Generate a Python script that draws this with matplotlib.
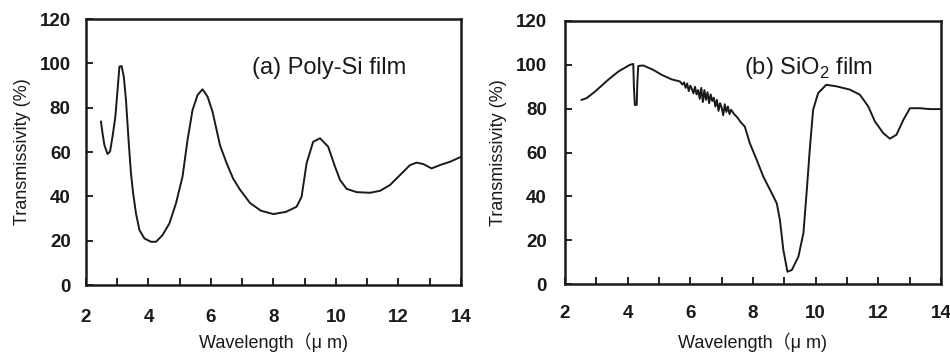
import matplotlib.pyplot as plt
import numpy as np

plt.rcParams['font.family'] = ['Liberation Sans', 'Noto Sans CJK JP', 'DejaVu Sans']
plt.rcParams['mathtext.fontset'] = 'custom'
plt.rcParams['mathtext.rm'] = 'Liberation Sans'

# (a) Poly-Si film
wl_a = [2.48, 2.53, 2.59, 2.69, 2.77, 2.85, 2.94, 3.01, 3.07, 3.14, 3.21, 3.28,
        3.37, 3.44, 3.51, 3.60, 3.71, 3.87, 4.08, 4.24, 4.45, 4.67, 4.88, 5.09,
        5.25, 5.41, 5.57, 5.73, 5.89, 6.05, 6.29, 6.50, 6.71, 6.93, 7.25, 7.60,
        8.00, 8.40, 8.74, 8.90, 9.06, 9.27, 9.49, 9.75, 9.97, 10.13, 10.34, 10.66,
        11.09, 11.41, 11.73, 12.05, 12.37, 12.58, 12.79, 13.06, 13.33, 13.65, 13.97]
tr_a = [73.7, 68.4, 63.1, 59.1, 60.2, 67.0, 75.9, 87.9, 98.5, 98.8, 94.0, 83.4,
        63.9, 50.4, 41.3, 32.3, 24.8, 21.0, 19.5, 19.5, 22.5, 27.8, 36.8, 48.9,
        65.4, 78.9, 85.7, 88.3, 85.0, 78.2, 63.0, 55.0, 48.0, 43.0, 37.0, 33.5,
        32.0, 33.0, 35.3, 39.8, 54.9, 64.6, 66.2, 62.4, 53.4, 47.4, 43.4, 41.9,
        41.6, 42.5, 45.1, 49.6, 54.1, 55.2, 54.6, 52.6, 54.1, 55.6, 57.6]

# (b) SiO2 film
wl_b = [2.53, 2.69, 2.96, 3.38, 3.70, 4.07, 4.18, 4.20, 4.23, 4.29, 4.31, 4.34,
        4.50, 4.82, 5.09, 5.40, 5.67, 5.75, 5.80, 5.85, 5.90, 5.95, 6.00, 6.05,
        6.10, 6.15, 6.20, 6.25, 6.30, 6.35, 6.40, 6.45, 6.50, 6.55, 6.60, 6.65,
        6.70, 6.75, 6.80, 6.85, 6.90, 6.95, 7.00, 7.05, 7.10, 7.15, 7.20, 7.25,
        7.30, 7.40, 7.50, 7.60, 7.74, 7.90, 8.12, 8.33, 8.60, 8.76, 8.86, 8.97,
        9.10, 9.24, 9.45, 9.61, 9.71, 9.82, 9.92, 10.08, 10.34, 10.66, 11.09, 11.41,
        11.68, 11.89, 12.16, 12.37, 12.58, 12.80, 13.01, 13.33, 13.65, 13.97]
tr_b = [84.0, 84.8, 87.8, 93.2, 96.9, 100.0, 100.4, 90.0, 81.7, 81.7, 92.0, 99.5,
        99.7, 97.7, 95.4, 93.4, 92.4, 91.0, 92.0, 89.5, 91.5, 88.0, 90.5, 89.0,
        87.0, 90.0, 86.5, 88.5, 84.5, 89.5, 83.0, 88.5, 84.0, 87.5, 82.5, 86.5,
        83.5, 85.0, 81.0, 84.0, 79.0, 82.5, 80.5, 77.0, 82.0, 78.5, 81.0, 77.5,
        79.5, 77.5, 76.0, 74.0, 71.8, 64.2, 56.6, 49.0, 41.4, 36.8, 29.2, 15.5,
        5.6, 6.4, 12.5, 23.2, 41.4, 62.7, 79.5, 87.1, 90.9, 90.2, 88.7, 86.4,
        81.0, 74.2, 68.8, 66.3, 68.1, 74.9, 80.2, 80.2, 79.8, 79.8]

x_ticks = [2, 4, 6, 8, 10, 12, 14]
y_ticks = [0, 20, 40, 60, 80, 100, 120]

fig = plt.figure(figsize=(9.5, 3.54), dpi=100)
ax_a = fig.add_axes([0.0905, 0.1949, 0.3947, 0.7514])
ax_b = fig.add_axes([0.5947, 0.1977, 0.3958, 0.7430])

ink = '#1a1a1a'
panels = [(ax_a, wl_a, tr_a, '(a) Poly-Si film', 7.31, 97.9, 11, 17, 5),
          (ax_b, wl_b, tr_b, r'(b) SiO$_\mathrm{2}$ film', 7.71, 98.6, 13, 15, 8)]

for ax, x, y, title, tx, ty, ypad, xpad, lpad in panels:
    ax.plot(x, y, color=ink, lw=1.4)
    ax.set_xlim(2, 14)
    ax.set_ylim(0, 120)
    ax.set_xticks(x_ticks)
    ax.set_xticks(np.arange(3, 14, 2), minor=True)
    ax.set_yticks(y_ticks)
    ax.tick_params(axis='x', which='both', direction='in', length=5, width=1.2,
                   top=False, pad=xpad, labelsize=13.5, labelcolor=ink)
    ax.tick_params(axis='y', which='both', direction='in', length=5, width=1.2,
                   right=False, pad=ypad, labelsize=13.5, labelcolor=ink)
    for lab in ax.get_xticklabels() + ax.get_yticklabels():
        lab.set_fontweight('bold')
    for sp in ax.spines.values():
        sp.set_linewidth(1.8)
        sp.set_color(ink)
    ax.set_xlabel('Wavelength\uff08\u03bc m)', fontsize=13, color=ink, labelpad=lpad)
    ax.set_ylabel('Transmissivity (%)', fontsize=13, color=ink, labelpad=6)
    ax.text(tx, ty, title, fontsize=17, color=ink, va='center', ha='left')

fig.savefig('out.png', dpi=100)
